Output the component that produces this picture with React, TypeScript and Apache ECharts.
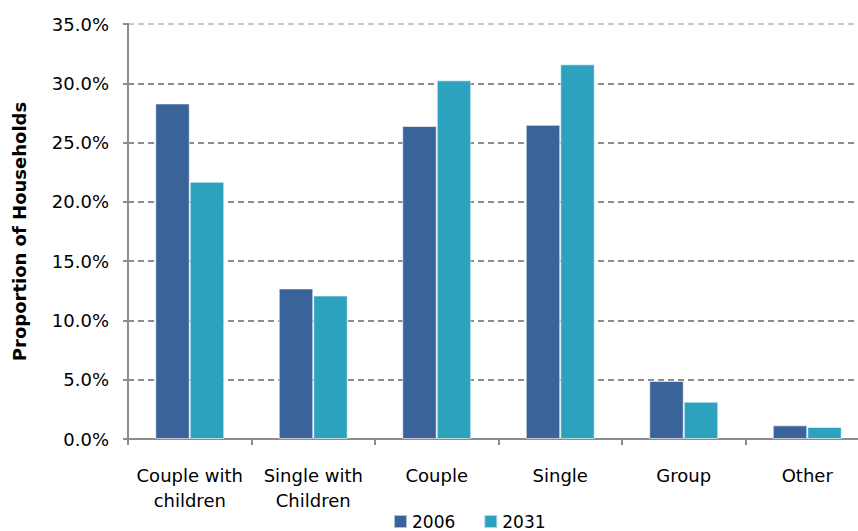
import React, { useEffect, useRef } from "react";
import * as echarts from "echarts";

const categories = ["Couple with\nchildren", "Single with\nChildren", "Couple", "Single", "Group", "Other"];
const seriesNames = ["2006", "2031"];
const values2006 = [28.3, 12.7, 26.4, 26.5, 4.9, 1.15];
const values2031 = [21.7, 12.1, 30.25, 31.6, 3.15, 1.02];
const colors = ["#3A6399", "#2CA2BF"];

export default function App() {
  const ref = useRef<HTMLDivElement>(null);
  useEffect(() => {
    if (!ref.current) return;
    const chart = echarts.init(ref.current, null, { renderer: "svg" });
    const font = "DejaVu Sans";
    chart.setOption({
      animation: false,
      backgroundColor: "#ffffff",
      textStyle: { fontFamily: font },
      grid: { left: 128, top: 24, right: 1, bottom: 92, containLabel: false },
      legend: {
        data: seriesNames,
        left: 393,
        top: 513,
        padding: 0,
        itemWidth: 13,
        itemHeight: 13,
        itemGap: 28,
        icon: "rect",
        textStyle: { fontFamily: font, fontSize: 17, color: "#000" },
      },
      xAxis: {
        type: "category",
        data: categories,
        axisLine: { lineStyle: { color: "#8c8c8c", width: 2 } },
        axisTick: { show: true, length: 6, lineStyle: { color: "#8c8c8c", width: 2 } },
        axisLabel: { fontFamily: font, fontSize: 18, color: "#000", margin: 24, lineHeight: 25, interval: 0 },
      },
      yAxis: {
        type: "value",
        min: 0,
        max: 35,
        interval: 5,
        name: "Proportion of Households",
        nameLocation: "middle",
        nameGap: 100,
        nameTextStyle: { fontFamily: font, fontSize: 18, fontWeight: "bold", color: "#000" },
        axisLine: { show: true, lineStyle: { color: "#8c8c8c", width: 2 } },
        axisTick: { show: true, length: 5, lineStyle: { color: "#8c8c8c", width: 2 } },
        axisLabel: {
          fontFamily: font,
          fontSize: 18,
          color: "#000",
          margin: 19,
          formatter: (v: number) => v.toFixed(1) + "%",
        },
        splitLine: {
          show: true,
          lineStyle: {
            color: ["#8c8c8c", "#8c8c8c", "#8c8c8c", "#8c8c8c", "#8c8c8c", "#8c8c8c", "#8c8c8c", "#c8c8c8"],
            width: 2,
            type: [6, 4],
          },
        },
      },
      series: [
        {
          name: seriesNames[0],
          type: "bar",
          data: values2006,
          barWidth: 34.5,
          barGap: "0%",
          itemStyle: { color: colors[0], borderColor: "rgba(255,255,255,0.6)", borderWidth: 1 },
        },
        {
          name: seriesNames[1],
          type: "bar",
          data: values2031,
          barWidth: 34.5,
          barGap: "0%",
          itemStyle: { color: colors[1], borderColor: "rgba(255,255,255,0.6)", borderWidth: 1 },
        },
      ],
    });
    return () => chart.dispose();
  }, []);
  return (
    <div style={{ width: 858, height: 531, position: "absolute", left: 0, top: 0, overflow: "hidden" }}>
      <div ref={ref} style={{ width: 870, height: 531 }} />
    </div>
  );
}
